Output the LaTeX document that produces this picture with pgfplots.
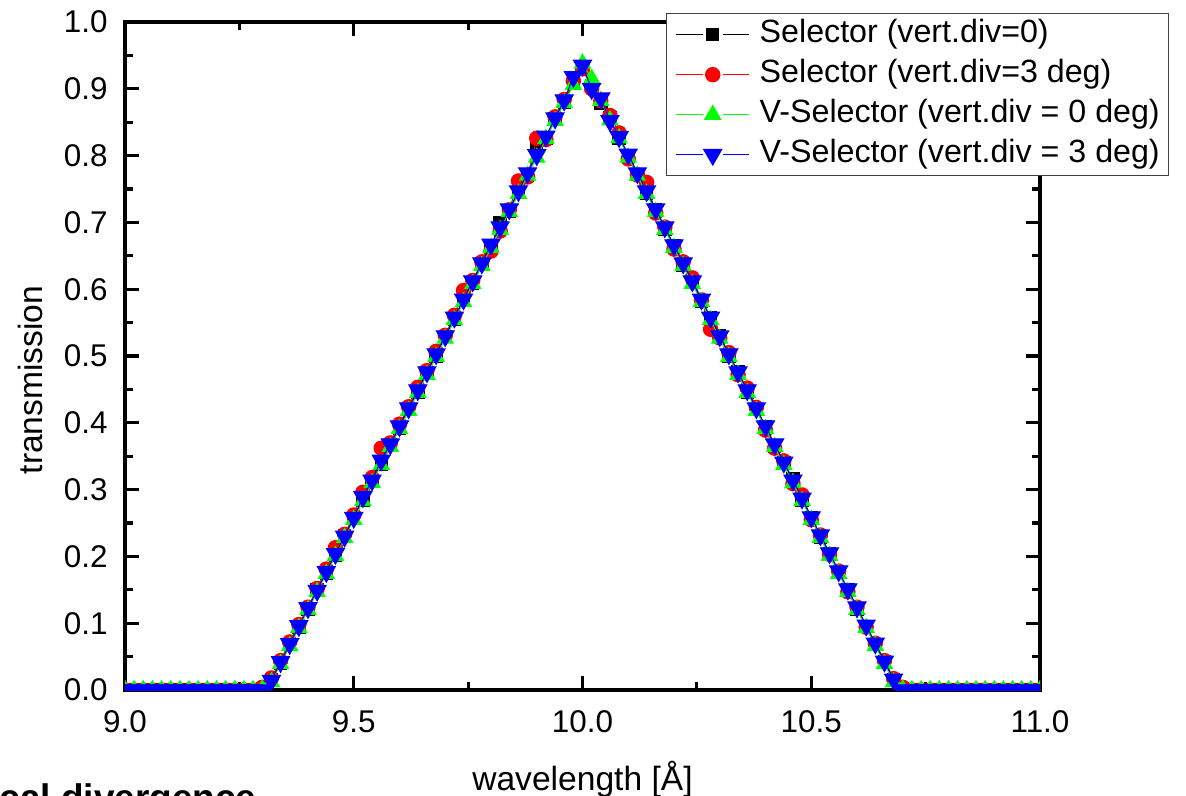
\documentclass[border=0pt]{standalone}
\usepackage{fontspec}
\setmainfont{Liberation Sans}
\usepackage{pgfplots}
\pgfplotsset{compat=1.18}
\usepackage{pgfplotstable}

\pgfplotstableread{
x a b c d
9.00 0 0 0 0
9.02 0 0 0 0
9.04 0 0 0 0
9.06 0 0 0 0
9.08 0 0 0 0
9.10 0 0 0 0
9.12 0 0 0 0
9.14 0 0 0 0
9.16 0 0 0 0
9.18 0 0 0 0
9.20 0 0 0 0
9.22 0 0 0 0
9.24 0 0 0 0
9.26 0 0 0 0
9.28 0 0 0 0
9.30 0.002 0.004 0.001 0.000
9.32 0.015 0.018 0.012 0.014
9.34 0.040 0.044 0.039 0.042
9.36 0.068 0.072 0.066 0.069
9.38 0.094 0.098 0.093 0.096
9.40 0.121 0.124 0.120 0.123
9.42 0.150 0.152 0.147 0.149
9.44 0.175 0.181 0.174 0.177
9.46 0.202 0.213 0.201 0.204
9.48 0.231 0.233 0.228 0.230
9.50 0.258 0.262 0.255 0.258
9.52 0.284 0.296 0.283 0.289
9.54 0.313 0.318 0.310 0.314
9.56 0.338 0.362 0.337 0.344
9.58 0.367 0.370 0.364 0.368
9.60 0.392 0.398 0.391 0.395
9.62 0.421 0.424 0.418 0.422
9.64 0.446 0.453 0.445 0.449
9.66 0.475 0.478 0.472 0.476
9.68 0.500 0.507 0.499 0.503
9.70 0.529 0.531 0.526 0.530
9.72 0.555 0.561 0.554 0.558
9.74 0.584 0.598 0.581 0.585
9.76 0.609 0.613 0.608 0.612
9.78 0.638 0.641 0.635 0.639
9.80 0.663 0.657 0.662 0.667
9.82 0.700 0.687 0.689 0.693
9.84 0.717 0.719 0.716 0.720
9.86 0.746 0.762 0.743 0.747
9.88 0.771 0.768 0.770 0.774
9.90 0.815 0.826 0.797 0.801
9.92 0.826 0.824 0.825 0.829
9.94 0.855 0.858 0.852 0.856
9.96 0.880 0.884 0.879 0.883
9.98 0.909 0.912 0.906 0.918
10.00 0.932 0.930 0.938 0.935
10.02 0.905 0.900 0.915 0.900
10.04 0.879 0.882 0.882 0.886
10.06 0.856 0.860 0.853 0.852
10.08 0.826 0.834 0.826 0.828
10.10 0.800 0.795 0.797 0.802
10.12 0.772 0.771 0.770 0.774
10.14 0.744 0.760 0.743 0.747
10.16 0.719 0.714 0.716 0.720
10.18 0.690 0.693 0.689 0.693
10.20 0.665 0.660 0.662 0.666
10.22 0.636 0.641 0.635 0.639
10.24 0.611 0.617 0.608 0.612
10.26 0.582 0.584 0.581 0.585
10.28 0.557 0.540 0.554 0.558
10.30 0.530 0.527 0.526 0.530
10.32 0.500 0.505 0.499 0.503
10.34 0.476 0.472 0.472 0.476
10.36 0.446 0.452 0.445 0.449
10.38 0.420 0.423 0.418 0.422
10.40 0.394 0.389 0.391 0.395
10.42 0.365 0.362 0.364 0.368
10.44 0.340 0.343 0.337 0.341
10.46 0.316 0.309 0.310 0.314
10.48 0.284 0.292 0.283 0.287
10.50 0.258 0.255 0.255 0.259
10.52 0.229 0.232 0.228 0.232
10.54 0.204 0.203 0.201 0.205
10.56 0.176 0.178 0.174 0.178
10.58 0.150 0.147 0.147 0.151
10.60 0.121 0.124 0.120 0.124
10.62 0.095 0.094 0.093 0.097
10.64 0.068 0.070 0.066 0.070
10.66 0.042 0.044 0.039 0.043
10.68 0.015 0.017 0.012 0.016
10.70 0.002 0.004 0.001 0.000
10.72 0 0 0 0
10.74 0 0 0 0
10.76 0 0 0 0
10.78 0 0 0 0
10.80 0 0 0 0
10.82 0 0 0 0
10.84 0 0 0 0
10.86 0 0 0 0
10.88 0 0 0 0
10.90 0 0 0 0
10.92 0 0 0 0
10.94 0 0 0 0
10.96 0 0 0 0
10.98 0 0 0 0
11.00 0 0 0 0
}\data

\definecolor{pgreen}{RGB}{0,255,0}
\definecolor{pblue}{RGB}{0,0,255}
\definecolor{pred}{RGB}{255,0,0}

\begin{document}
\begin{tikzpicture}
\begin{axis}[
  scale only axis, width=457.5bp, height=334bp,
  xmin=9, xmax=11, ymin=0, ymax=1,
  xtick={9,9.5,10,10.5,11},
  ytick={0,0.1,0.2,0.3,0.4,0.5,0.6,0.7,0.8,0.9,1.0},
  minor x tick num=1, minor y tick num=1,
  tick align=inside,
  major tick length=7bp, minor tick length=4bp,
  axis line style={line width=1.6bp},
  every tick/.style={black, line width=1.6bp},
  /pgf/number format/assume math mode=true,
  xticklabel style={/pgf/number format/.cd, fixed, fixed zerofill, precision=1, /tikz/.cd,
    font=\fontsize{15.7bp}{18bp}\selectfont, inner sep=0pt, anchor=north, yshift=-10bp},
  yticklabel style={/pgf/number format/.cd, fixed, fixed zerofill, precision=1, /tikz/.cd,
    font=\fontsize{15.7bp}{18bp}\selectfont, inner sep=0pt, anchor=east, xshift=-8.5bp},
  xlabel={wavelength [Å]},
  ylabel={transmission},
  xlabel style={at={(rel axis cs:0.5,0)}, anchor=base, yshift=-50bp, inner sep=0pt,
    font=\fontsize{16.8bp}{20bp}\selectfont},
  ylabel style={at={(rel axis cs:-0.0907,0.464)}, anchor=base, inner sep=0pt,
    font=\fontsize{16.8bp}{20bp}\selectfont},
  clip marker paths=true,
  legend cell align=left,
  legend image code/.code={%
    \draw[#1, mark=none] plot coordinates {(0bp,0bp) (13.25bp,0bp)};
    \draw[#1, mark=none] plot coordinates {(23.25bp,0bp) (36.5bp,0bp)};
    \draw[#1, only marks] plot coordinates {(18.25bp,0bp)};},
  legend style={at={(rel axis cs:0.5913,1.0135)}, anchor=north west,
    draw=black!75, line width=0.7bp, fill=white,
    font=\fontsize{16.1bp}{19bp}\selectfont,
    inner xsep=4.5bp, inner ysep=3bp, row sep=5bp,
    nodes={inner sep=0pt, text height=11.6bp, text depth=3.4bp},
    /tikz/every odd column/.append style={column sep=5bp}},
]
\addplot[black, line width=0.5bp, mark=square*, mark size=3.1bp, mark options={solid, fill=black, draw=black}] table[x=x, y=a] {\data};
\addlegendentry{Selector (vert.div=0)}
\addplot[pred, line width=0.5bp, mark=*, mark size=3.6bp, mark options={solid, fill=pred, draw=pred}] table[x=x, y=b] {\data};
\addlegendentry{Selector (vert.div=3 deg)}
\addplot[pgreen, line width=0.5bp, mark=triangle*, mark size=4.6bp, mark options={solid, fill=pgreen, draw=pgreen}] table[x=x, y=c] {\data};
\addlegendentry{V-Selector (vert.div = 0 deg)}
\addplot[pblue, line width=0.5bp, mark=triangle*, mark size=5.2bp, mark options={solid, rotate=180, fill=pblue, draw=pblue}] table[x=x, y=d] {\data};
\addlegendentry{V-Selector (vert.div = 3 deg)}
\end{axis}
\node[anchor=base east, inner sep=0pt, font=\fontsize{18.5bp}{22bp}\selectfont\bfseries] at (66bp,-60bp) {Vertical divergence};
\pgfresetboundingbox
\useasboundingbox (-62.5bp,-53bp) rectangle (530.5bp,345bp);
\end{tikzpicture}
\end{document}
